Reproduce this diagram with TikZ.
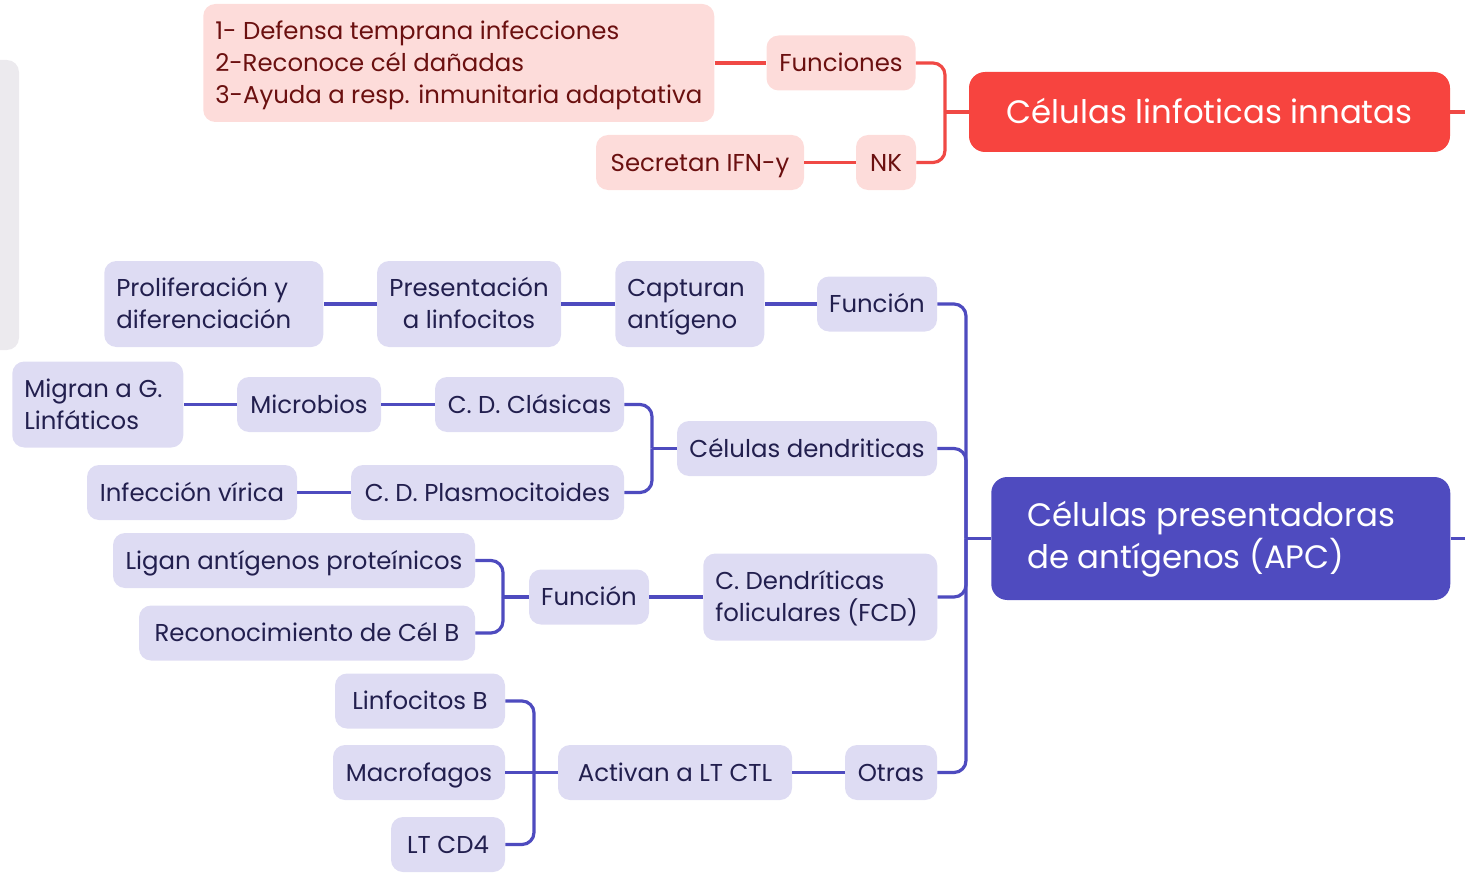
\documentclass[tikz,border=0pt]{standalone}
\usepackage{fontspec}
\setmainfont{Poppins}
\usetikzlibrary{calc}
\definecolor{redmain}{HTML}{F7443F}
\definecolor{redline}{HTML}{F04945}
\definecolor{pinkfill}{HTML}{FDDCDA}
\definecolor{redtext}{HTML}{6B1010}
\definecolor{bluemain}{HTML}{4F4BBF}
\definecolor{blueline}{HTML}{4E4BBF}
\definecolor{bluefill}{HTML}{DEDCF3}
\definecolor{navytext}{HTML}{221F4E}
\definecolor{greybar}{HTML}{ECEAEE}
\newcommand\smallfs{\fontsize{18.3}{24}\selectfont}
\newcommand\bigfs{\fontsize{24.3}{31.5}\selectfont}
\begin{document}
\begin{tikzpicture}[x=0.75pt,y=-0.75pt,
  rbox/.style={fill=pinkfill,text=redtext,rounded corners=9pt,inner sep=0pt,font=\smallfs,minimum height=41.25pt},
  bbox/.style={fill=bluefill,text=navytext,rounded corners=9pt,inner sep=0pt,font=\smallfs,minimum height=41.25pt},
  oneline/.style={text height=15pt,text depth=2.2pt},
  twolines/.style={text height=15pt,text depth=26.2pt},
  multi/.style={anchor=west,inner xsep=9pt,align=flush left,minimum height=64.5pt,twolines},
  rl/.style={draw=redline,line width=2.4pt},
  bl/.style={draw=blueline,line width=2.4pt},
  rc/.style={rounded corners=9pt}]
\useasboundingbox (0,0) rectangle (1465,892);
\fill[greybar,rounded corners=9pt] (-20,60) rectangle (19,350);

% ---- red part
\node[rbox,multi,text width=365.25pt,minimum height=88.5pt,text depth=50.2pt] (lst) at (203,63)
  {1- Defensa temprana infecciones\\2-Reconoce cél dañadas\\3-Ayuda a resp. inmunitaria adaptativa};
\node[rbox,oneline,minimum width=111.75pt] (fun) at (841,63) {Funciones};
\node[rbox,oneline,minimum width=45pt] (nk) at (886,162.5) {NK};
\node[rbox,oneline,minimum width=156pt] (sec) at (700,162.5) {Secretan IFN-y};
\node[fill=redmain,text=white,rounded corners=12pt,inner sep=0pt,font=\bigfs,text height=19.5pt,text depth=2.5pt,minimum width=360.75pt,minimum height=60pt] (cli) at (1209.5,112) {Células linfoticas innatas};
\coordinate (redge) at (1465,112);
\coordinate (rj) at (945,112);
\draw[rl] (lst.east) -- (fun.west);
\draw[rl] (sec.east) -- (nk.west);
\draw[rl] (rj) -- (cli.west);
\draw[rl,rc] (rj) |- (fun.east);
\draw[rl,rc] (rj) |- (nk.east);
\draw[rl] (cli.east) -- (redge);

% ---- blue part
\node[fill=bluemain,text=white,rounded corners=12pt,anchor=west,inner ysep=0pt,inner xsep=27pt,font=\bigfs,text width=290.25pt,align=flush left,text height=20pt,text depth=37.5pt,minimum height=92.25pt] (apc) at (991,538.5)
  {Células presentadoras\\de antígenos (APC)};
\coordinate (bedge) at (1465,538.5);
\node[bbox,oneline,minimum width=90pt] (f1) at (877,304) {Función};
\node[bbox,oneline,minimum width=195pt] (cd) at (807,448.5) {Células dendriticas};
\node[bbox,multi,text width=157.5pt,minimum height=65.25pt] (fcd) at (703,597) {C. Dendríticas\\foliculares (FCD)};
\node[bbox,oneline,minimum width=69pt] (otr) at (891,772.5) {Otras};
\node[bbox,multi,text width=93.75pt] (cap) at (615,304) {Capturan\\antígeno};
\node[bbox,text height=40pt,text depth=3.2pt,minimum width=138pt,align=center,minimum height=64.5pt] (pre) at (469,304) {Presentación\\a linfocitos};
\node[bbox,multi,text width=146.25pt] (pro) at (104,304) {Proliferación y\\diferenciación};
\node[bbox,oneline,minimum width=141.75pt] (cdc) at (529.5,404.5) {C. D. Clásicas};
\node[bbox,oneline,minimum width=204.75pt] (cdp) at (487.5,492.5) {C. D. Plasmocitoides};
\node[bbox,oneline,minimum width=108pt] (mic) at (309,404.5) {Microbios};
\node[bbox,multi,text width=110.25pt] (mig) at (12,404.5) {Migran a G.\\Linfáticos};
\node[bbox,oneline,minimum width=157.5pt] (inf) at (192,492.5) {Infección vírica};
\node[bbox,oneline,minimum width=90pt] (f2) at (589,597) {Función};
\node[bbox,oneline,minimum width=271.5pt] (lig) at (294,560.5) {Ligan antígenos proteínicos};
\node[bbox,oneline,minimum width=252pt] (rec) at (307,633) {Reconocimiento de Cél B};
\node[bbox,oneline,minimum width=175.5pt] (act) at (675,772.5) {Activan a LT CTL};
\node[bbox,oneline,minimum width=127.5pt] (lb) at (420,701) {Linfocitos B};
\node[bbox,oneline,minimum width=129pt] (mac) at (419,772.5) {Macrofagos};
\node[bbox,oneline,minimum width=85.5pt] (cd4) at (448,844.5) {LT CD4};

\coordinate (bj) at (966,538.5);
\draw[bl] (bj) -- (apc.west);
\draw[bl] (apc.east) -- (bedge);
\draw[bl,rc] (bj) |- (f1.east);
\draw[bl,rc] (bj) |- (cd.east);
\draw[bl,rc] (bj) |- (fcd.east);
\draw[bl,rc] (bj) |- (otr.east);
\draw[bl] (f1.west) -- (cap.east);
\draw[bl] (cap.west) -- (pre.east);
\draw[bl] (pre.west) -- (pro.east);
\coordinate (cj) at (652,448.5);
\draw[bl] (cd.west) -- (cj);
\draw[bl,rc] (cj) |- (cdc.east);
\draw[bl,rc] (cj) |- (cdp.east);
\draw[bl] (cdc.west) -- (mic.east);
\draw[bl] (mic.west) -- (mig.east);
\draw[bl] (cdp.west) -- (inf.east);
\draw[bl] (fcd.west) -- (f2.east);
\coordinate (fj) at (503,597);
\draw[bl] (f2.west) -- (fj);
\draw[bl,rc] (fj) |- (lig.east);
\draw[bl,rc] (fj) |- (rec.east);
\draw[bl] (otr.west) -- (act.east);
\coordinate (oj) at (534,772.5);
\draw[bl] (act.west) -- (oj);
\draw[bl,rc] (oj) |- (lb.east);
\draw[bl] (oj) -- (mac.east);
\draw[bl,rc] (oj) |- (cd4.east);
\end{tikzpicture}
\end{document}
